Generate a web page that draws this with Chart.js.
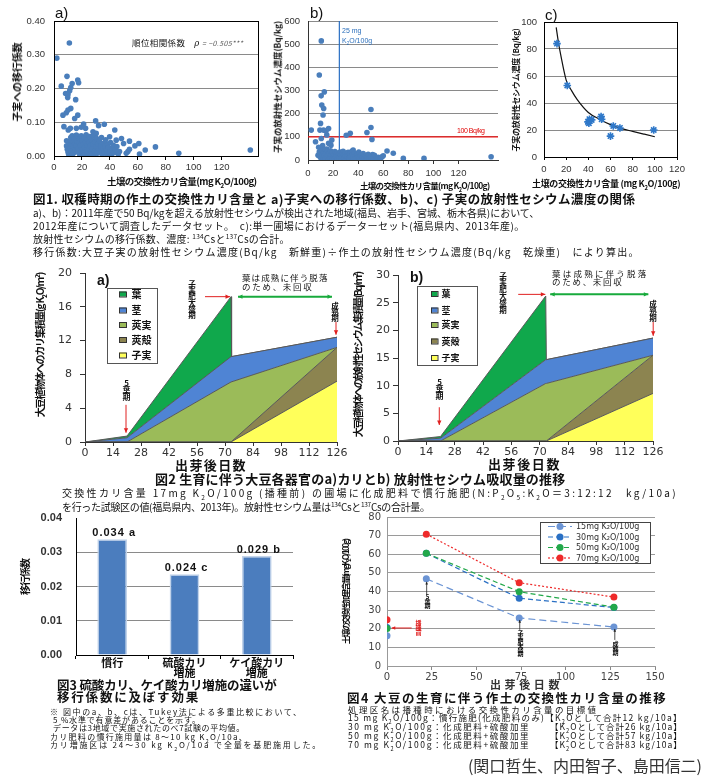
<!DOCTYPE html>
<html lang="ja">
<head>
<meta charset="utf-8">
<title>大豆の交換性カリと放射性セシウム</title>
<script src="https://cdn.jsdelivr.net/npm/chart.js@4.4.1/dist/chart.umd.min.js"></script>
<style>
  html, body { margin: 0; padding: 0; background: #fff; }
  #page { position: relative; width: 705px; height: 780px; overflow: hidden; }
  #page canvas { position: absolute; left: 0; top: 0; }
  .t { position: absolute; white-space: nowrap; line-height: 1; font-family: "Noto Sans CJK JP", sans-serif; color: #111; }
  .b { font-weight: 700; }
  .r { transform: translate(-50%, -50%) rotate(-90deg); }
  .v { writing-mode: vertical-rl; text-orientation: upright; }
  .lat { font-family: "Liberation Sans", sans-serif; }
  sub, sup { font-size: 0.65em; line-height: 0; }
</style>
</head>
<body>
<div id="page">
  <canvas id="c1a" width="705" height="780"></canvas>
  <canvas id="c1b" width="705" height="780"></canvas>
  <canvas id="c1c" width="705" height="780"></canvas>
  <canvas id="c2a" width="705" height="780"></canvas>
  <canvas id="c2b" width="705" height="780"></canvas>
  <canvas id="c3" width="705" height="780"></canvas>
  <canvas id="c4" width="705" height="780"></canvas>

  <!-- fig 1 -->
  <div class="t lat" style="left:55px;top:5px;font-size:15px">a)</div>
  <div class="t lat" style="left:310px;top:5px;font-size:15px">b)</div>
  <div class="t lat" style="left:545px;top:7px;font-size:15px">c)</div>
  <div class="t" style="left:132px;top:38px;font-size:8.5px" data-w="111">順位相関係数　<i style="font-family:'DejaVu Serif'">ρ</i> <i style="font-size:7px;color:#555">= −0.505***</i></div>
  <div class="t b r" style="left:17px;top:82px;font-size:10px" data-w="79">子実への移行係数</div>
  <div class="t b" style="left:107px;top:177px;font-size:9.5px" data-w="150">土壌の交換性カリ含量(mg K<sub>2</sub>O/100g)</div>
  <div class="t b r" style="left:277px;top:87px;font-size:8.5px" data-w="132">子実の放射性セシウム濃度(Bq/kg)</div>
  <div class="t b" style="left:360px;top:180.5px;font-size:8.5px" data-w="130">土壌の交換性カリ含量(mg K<sub>2</sub>O/100g)</div>
  <div class="t lat" style="left:342px;top:27px;font-size:7px;color:#2a6ebb">25 mg</div>
  <div class="t lat" style="left:342px;top:36.5px;font-size:7px;color:#2a6ebb">K<sub>2</sub>O/100g</div>
  <div class="t lat" style="left:457px;top:126.5px;font-size:7px;color:#e00000" data-w="28">100 Bq/kg</div>
  <div class="t b r" style="left:516px;top:90px;font-size:8px" data-w="123">子実の放射性セシウム濃度 (Bq/kg)</div>
  <div class="t b" style="left:532px;top:179px;font-size:9px" data-w="148">土壌の交換性カリ含量 (mg K<sub>2</sub>O/100g)</div>

  <div class="t b" style="left:33px;top:192.7px;font-size:12.5px" data-w="602">図1. 収穫時期の作土の交換性カリ含量と a)子実への移行係数、b)、c) 子実の放射性セシウム濃度の関係</div>
  <div class="t" style="left:33px;top:208px;font-size:10px" data-w="507">a)、b)：2011年産で50 Bq/kgを超える放射性セシウムが検出された地域(福島、岩手、宮城、栃木各県)において、</div>
  <div class="t" style="left:33px;top:221px;font-size:10px" data-w="492">2012年産について調査したデータセット。　c):単一圃場におけるデーターセット(福島県内、2013年産)。</div>
  <div class="t" style="left:33px;top:234px;font-size:10px" data-w="257">放射性セシウムの移行係数、濃度: <sup>134</sup>Csと<sup>137</sup>Csの合計。</div>
  <div class="t" style="left:33px;top:247px;font-size:10px" data-w="607">移行係数:大豆子実の放射性セシウム濃度(Bq/kg　新鮮重)÷作土の放射性セシウム濃度(Bq/kg　乾燥重)　により算出。</div>

  <!-- fig 2 -->
  <div class="t lat b" style="left:97px;top:273px;font-size:14px">a)</div>
  <div class="t lat b" style="left:410px;top:270px;font-size:14px">b)</div>
  <div class="t b r" style="left:40px;top:345px;font-size:10px" data-w="144">大豆植物体へのカリ集積量(g K<sub>2</sub>O/m<sup>2</sup>)</div>
  <div class="t b r" style="left:358px;top:355px;font-size:10px" data-w="164">大豆植物体への放射性セシウム集積量 (Bq/m<sup>2</sup>)</div>
  <div class="t b" style="left:175px;top:457.5px;font-size:13px" data-w="72">出芽後日数</div>
  <div class="t b" style="left:488px;top:457px;font-size:13px" data-w="73">出芽後日数</div>
  <div class="t" style="left:242px;top:272.7px;font-size:8.5px" data-w="87">葉は成熟に伴う脱落</div>
  <div class="t" style="left:242px;top:281.7px;font-size:8.5px" data-w="72">のため、未回収</div>
  <div class="t" style="left:552px;top:268.5px;font-size:8.5px" data-w="97">葉は成熟に伴う脱落</div>
  <div class="t" style="left:552px;top:276.5px;font-size:8.5px" data-w="72">のため、未回収</div>
  <div class="t b v" style="left:122px;top:379px;font-size:8px;letter-spacing:-0.8px">5葉期</div>
  <div class="t b v" style="left:188px;top:280px;font-size:7.5px;letter-spacing:-1.2px">子実肥大盛期</div>
  <div class="t b v" style="left:331px;top:302px;font-size:7.5px;letter-spacing:-1.2px">成熟期</div>
  <div class="t b v" style="left:435px;top:378px;font-size:8px;letter-spacing:-0.8px">5葉期</div>
  <div class="t b v" style="left:499px;top:272px;font-size:7.5px;letter-spacing:-0.7px">子実肥大盛期</div>
  <div class="t b v" style="left:649px;top:300px;font-size:7.5px;letter-spacing:-0.5px">成熟期</div>

  <div class="t b" style="left:155px;top:471.5px;font-size:13px" data-w="410">図2 生育に伴う大豆各器官のa)カリとb) 放射性セシウム吸収量の推移</div>
  <div class="t" style="left:62px;top:488px;font-size:10px" data-w="616">交換性カリ含量 17mg K<sub>2</sub>O/100g (播種前) の圃場に化成肥料で慣行施肥(N:P<sub>2</sub>O<sub>5</sub>:K<sub>2</sub>O＝3:12:12　kg/10a)</div>
  <div class="t" style="left:62px;top:502px;font-size:10px" data-w="368">を行った試験区の値(福島県内、2013年)。放射性セシウム量は<sup>134</sup>Csと<sup>137</sup>Csの合計量。</div>

  <!-- fig 3 -->
  <div class="t b r" style="left:25px;top:577px;font-size:10px" data-w="36">移行係数</div>
  <div class="t b" style="left:57px;top:678.7px;font-size:12.5px" data-w="220">図3 硫酸カリ、ケイ酸カリ増施の違いが</div>
  <div class="t b" style="left:57px;top:690.7px;font-size:12.5px" data-w="143">移行係数に及ぼす効果</div>
  <div class="t" style="left:50px;top:707.7px;font-size:8px" data-w="253">※ 図中のa、b、cは、Tukey法による多重比較において、</div>
  <div class="t" style="left:53px;top:716px;font-size:8px" data-w="148">5 %水準で有意差があることを示す。</div>
  <div class="t" style="left:53px;top:724.3px;font-size:8px" data-w="192">データは3地域で実施されたのべ7試験の平均値。</div>
  <div class="t" style="left:50px;top:732.7px;font-size:8px" data-w="198">カリ肥料の慣行施用量は 8～10 kg K<sub>2</sub>O/10a、</div>
  <div class="t" style="left:50px;top:741px;font-size:8px" data-w="272">カリ増施区は 24～30 kg K<sub>2</sub>O/10a で全量を基肥施用した。</div>

  <!-- fig 4 -->
  <div class="t b r" style="left:345px;top:592px;font-size:8.5px" data-w="105">土壌の交換性加里含量(mg K<sub>2</sub>O/100g)</div>
  <div class="t b" style="left:490px;top:678.5px;font-size:11px;color:#333" data-w="73">出芽後日数</div>
  <div class="t b v" style="left:424px;top:594px;font-size:6px;letter-spacing:-1.5px">5葉期</div>
  <div class="t b v" style="left:517px;top:630px;font-size:6px;letter-spacing:-1.8px">子実肥大盛期</div>
  <div class="t b v" style="left:612px;top:641px;font-size:6px;letter-spacing:-1.5px">成熟期</div>
  <div class="t b v" style="left:415px;top:620px;font-size:6px;letter-spacing:-1px;color:#e02020">播種前</div>

  <div class="t b" style="left:347px;top:691.5px;font-size:12.5px" data-w="320">図4 大豆の生育に伴う作土の交換性カリ含量の推移</div>
  <div class="t" style="left:348px;top:704.7px;font-size:8.5px" data-w="251">処理区名は播種時における交換性カリ含量の目標値</div>
  <div class="t" style="left:348px;top:713.4px;font-size:8.5px" data-w="335">15 mg K<sub>2</sub>O/100g：慣行施肥(化成肥料のみ)【K<sub>2</sub>Oとして合計12 kg/10a】</div>
  <div class="t" style="left:348px;top:722.4px;font-size:8.5px" data-w="182">30 mg K<sub>2</sub>O/100g：化成肥料+硫酸加里</div>
  <div class="t" style="left:550px;top:722.4px;font-size:8.5px" data-w="133">【K<sub>2</sub>Oとして合計26 kg/10a】</div>
  <div class="t" style="left:348px;top:731.4px;font-size:8.5px" data-w="182">50 mg K<sub>2</sub>O/100g：化成肥料+硫酸加里</div>
  <div class="t" style="left:550px;top:731.4px;font-size:8.5px" data-w="133">【K<sub>2</sub>Oとして合計57 kg/10a】</div>
  <div class="t" style="left:348px;top:739.7px;font-size:8.5px" data-w="182">70 mg K<sub>2</sub>O/100g：化成肥料+硫酸加里</div>
  <div class="t" style="left:550px;top:739.7px;font-size:8.5px" data-w="133">【K<sub>2</sub>Oとして合計83 kg/10a】</div>
  <div class="t" style="left:468px;top:757px;font-size:16px;color:#333" data-w="234">(関口哲生、内田智子、島田信二)</div>
</div>

<script>
// ---------- data ----------
// Fig.1 a) soil exchangeable K (mg K2O/100g) vs transfer factor
const transferPts = [
  [2, 0.29], [11, 0.335], [9.3, 0.236], [5.2, 0.207], [13, 0.215], [17, 0.225], [17.6, 0.217],
  [12, 0.203], [11.2, 0.193], [8.3, 0.185], [9.8, 0.173], [10, 0.182], [15.5, 0.167], [12, 0.141],
  [6.4, 0.121], [8.8, 0.128], [10, 0.136], [14.8, 0.111], [17, 0.121], [7.1, 0.087], [10.2, 0.077],
  [11.7, 0.082], [16, 0.082], [19.5, 0.085], [21.2, 0.095], [22.6, 0.082], [29.8, 0.104], [31.9, 0.09],
  [36, 0.094], [43.5, 0.077], [27.9, 0.072], [30.2, 0.067], [72.6, 0.027], [89.3, 0.008], [65.3, 0.018],
  [57.9, 0.03], [60.7, 0.037], [54, 0.044], [49.8, 0.037], [48.3, 0.052], [44.5, 0.047], [52.9, 0.013],
  [51.7, 0.008], [46, 0.006], [61.2, 0.006], [54, 0.02], [46.9, 0.013], [39.8, 0.057], [140.5, 0.018],
  [9, 0.045], [9, 0.03], [9.5, 0.02], [10, 0.012], [10.5, 0.005], [11, 0.04], [11.5, 0.025], [12, 0.055],
  [12, 0.035], [12.5, 0.015], [13, 0.06], [13, 0.045], [13.5, 0.028], [14, 0.008], [14.5, 0.05], [15, 0.038],
  [15, 0.018], [16, 0.062], [16, 0.03], [16.5, 0.045], [17, 0.012], [17.5, 0.022], [18, 0.052], [18, 0.04],
  [18.5, 0.003], [19, 0.03], [19.5, 0.06], [20, 0.018], [20, 0.045], [20.5, 0.008], [21, 0.035], [21.5, 0.055],
  [22, 0.025], [22.5, 0.042], [23, 0.012], [23, 0.063], [23.5, 0.032], [24, 0.05], [24.5, 0.005], [25, 0.02],
  [25, 0.04], [25.5, 0.058], [26, 0.03], [26.5, 0.012], [27, 0.047], [27.5, 0.022], [28, 0.035], [28, 0.06],
  [28.5, 0.003], [29, 0.015], [29.5, 0.042], [30, 0.028], [30.5, 0.052], [31, 0.008], [31.5, 0.035], [32, 0.02],
  [32.5, 0.045], [33, 0.012], [33.5, 0.03], [34, 0.055], [34.5, 0.004], [35, 0.022], [35.5, 0.038], [36, 0.012],
  [36.5, 0.03], [37, 0.048], [37.5, 0.018], [38, 0.005], [38.5, 0.035], [39, 0.025], [40, 0.012], [40.5, 0.04],
  [41, 0.003], [42, 0.022], [42.5, 0.032], [43, 0.01], [44, 0.018], [45, 0.028], [21, 0.003], [26, 0.004], [13, 0.002]
];
// Fig.1 b) soil exchangeable K vs seed radiocaesium (Bq/kg)
const seedCsPts = [
  [10.6, 514], [9, 367], [13, 294], [10.5, 277], [11, 237], [12.5, 222], [12, 194], [10, 158], [2.6, 129],
  [9.5, 129], [12.4, 129], [14.4, 125], [16.4, 136], [15, 108], [19, 86], [10.6, 93], [16.4, 72], [6, 79],
  [30.5, 107], [33.7, 115], [47, 119], [50.2, 218], [50.2, 140], [51, 89], [18.3, 64], [11.7, 62], [8.5, 55],
  [15, 47], [8, 20], [36, 43], [63, 39], [68, 29], [76, 7], [92.5, 7], [146, 14], [51.5, 24], [59, 14],
  [9, 35], [9.5, 15], [10, 28], [10.5, 5], [11, 42], [11.5, 22], [12, 10], [12.5, 33], [13, 18], [13.5, 45],
  [14, 6], [14.5, 28], [15, 14], [15.5, 38], [16, 22], [16.5, 3], [17, 30], [17.5, 12], [18, 40], [18.5, 20],
  [19, 8], [19.5, 32], [20, 16], [20.5, 25], [21, 5], [21.5, 36], [22, 12], [22.5, 22], [23, 30], [23.5, 4],
  [24, 18], [24.5, 26], [25, 10], [25.5, 34], [26, 20], [26.5, 6], [27, 28], [27.5, 14], [28, 38], [28.5, 22],
  [29, 8], [29.5, 30], [30, 16], [30.5, 3], [31, 25], [31.5, 12], [32, 33], [32.5, 20], [33, 7], [33.5, 28],
  [34, 15], [35, 38], [35.5, 22], [36, 9], [37, 30], [37.5, 16], [38, 4], [39, 24], [40, 12], [40.5, 34],
  [41, 7], [42, 20], [43, 14], [44, 28], [45, 6], [46, 18], [47, 10], [48, 25], [49, 4], [50, 14], [52, 8],
  [53, 20], [55, 5], [56, 12], [58, 9], [60, 18]
];
const csLimitK = 25;      // vertical reference, mg K2O/100g
const csLimitBq = 100;    // horizontal reference, Bq/kg
// Fig.1 c) single field
const fieldPts = [
  [11.7, 84], [21, 53], [39.7, 26], [41, 28], [40.5, 25], [43, 27.5], [51.5, 30], [52, 28],
  [60, 15.5], [62.5, 23], [68.5, 21.5], [99, 20]
];
const fitCurve = [
  [11, 96], [13, 85], [15, 76], [20, 57], [25, 49], [30, 42.5], [40, 33], [50, 28], [60, 24],
  [70, 21], [80, 19], [90, 17], [100, 15]
];

// Fig.2 organ uptake, days after emergence
const growthDays = [0, 21, 73, 73.3, 126];
const organNames = ['子実', '莢殻', '莢実', '茎', '葉'];
const kSeed  = [0, 0, 0, 0, 7.2];
const kShell = [0, 0, 0, 0, 4.0];
const kPod   = [0, 0, 7.1, 7.1, 0];
const kStem  = [0, 0.5, 3.0, 3.0, 1.2];
const kLeaf  = [0, 0.2, 7.1, 0, 0];
const csSeed  = [0, 0, 0, 0, 8.6];
const csShell = [0, 0, 0, 0, 6.9];
const csPod   = [0, 0, 10.4, 10.4, 0];
const csStem  = [0, 0.5, 4.3, 4.3, 3.1];
const csLeaf  = [0, 0.3, 11.5, 0, 0];

// Fig.3 transfer factor by treatment
const barLabels = ['慣行', ['硫酸カリ', '増施'], ['ケイ酸カリ', '増施']];
const barValues = [0.0338, 0.0236, 0.0289];
const barLetters = ['a', 'c', 'b'];

// Fig.4 soil exchangeable K through the season
const sampleDays = [0, 22, 74, 127];
const seriesNames = ['15mg K₂O/100g', '30mg K₂O/100g', '50mg K₂O/100g', '70mg K₂O/100g'];
const k15 = [16.3, 46.8, 25.8, 20.9];
const k30 = [20.7, 60.5, 36.4, 31.4];
const k50 = [20.2, 60.5, 39.9, 31.6];
const k70 = [24.8, 70.8, 44.7, 37.0];

// ---------- styles ----------
const organColors = ['#ffff5a', '#8c8450', '#9bbb59', '#4f84d4', '#10a84c'];
const lineColors = ['#6b94d4', '#2a70c4', '#22a84a', '#ee2a2a'];
const lineDashes = [[7, 4], [5, 3], [5, 3], [2, 2]];

// ---------- helpers / plugins ----------
const W = 705, H = 780;
Chart.defaults.animation = false;
Chart.defaults.responsive = false;
Chart.defaults.devicePixelRatio = 1;
Chart.defaults.events = [];
Chart.defaults.color = '#333';
Chart.defaults.font.family = '"Liberation Sans", "Noto Sans CJK JP", sans-serif';
Chart.defaults.plugins.legend.display = false;
Chart.defaults.plugins.tooltip.enabled = false;

// page-coordinate plot box: every canvas covers the page
function box(x0, y0, x1, y1, yw, xh) {
  return { padding: { left: x0 - yw, top: y0, right: W - x1, bottom: H - y1 - xh } };
}
const onStep = step => s => { s.ticks = s.ticks.filter(t => Math.abs(t.value / step - Math.round(t.value / step)) < 1e-6); };
const pts = arr => arr.map(p => ({ x: p[0], y: p[1] }));

const frame = {
  id: 'frame',
  afterDraw(chart, args, o) {
    if (!o.color) return;
    const a = chart.chartArea, ctx = chart.ctx;
    ctx.save();
    ctx.strokeStyle = o.color; ctx.lineWidth = 1;
    ctx.strokeRect(Math.round(a.left) + 0.5, Math.round(a.top) + 0.5, Math.round(a.right - a.left), Math.round(a.bottom - a.top));
    ctx.restore();
  }
};

function head(ctx, x1, y1, x2, y2, s) {
  const ang = Math.atan2(y2 - y1, x2 - x1);
  ctx.beginPath();
  ctx.moveTo(x2, y2);
  ctx.lineTo(x2 - s * Math.cos(ang - 0.45), y2 - s * Math.sin(ang - 0.45));
  ctx.lineTo(x2 - s * Math.cos(ang + 0.45), y2 - s * Math.sin(ang + 0.45));
  ctx.closePath();
  ctx.fill();
}
const arrows = {
  id: 'arrows',
  afterDatasetsDraw(chart, args, o) {
    if (!o.items) return;
    const xs = chart.scales.x, ys = chart.scales.y, ctx = chart.ctx;
    o.items.forEach(a => {
      const x1 = xs.getPixelForValue(a.from[0]), y1 = ys.getPixelForValue(a.from[1]);
      const x2 = xs.getPixelForValue(a.to[0]), y2 = ys.getPixelForValue(a.to[1]);
      const s = a.head || 5;
      ctx.save();
      ctx.strokeStyle = ctx.fillStyle = a.color;
      ctx.lineWidth = a.width || 1;
      ctx.beginPath(); ctx.moveTo(x1, y1); ctx.lineTo(x2, y2); ctx.stroke();
      head(ctx, x1, y1, x2, y2, s);
      if (a.both) head(ctx, x2, y2, x1, y1, s);
      ctx.restore();
    });
  }
};

const boxLegend = {
  id: 'boxLegend',
  afterDraw(chart, args, o) {
    if (!o.box) return;
    const ctx = chart.ctx, ds = chart.data.datasets;
    ctx.save();
    ctx.fillStyle = '#fff';
    ctx.fillRect(o.box[0], o.box[1], o.box[2], o.box[3]);
    ctx.strokeStyle = o.border || '#555'; ctx.lineWidth = 1;
    ctx.strokeRect(o.box[0] + 0.5, o.box[1] + 0.5, o.box[2], o.box[3]);
    o.order.forEach((i, k) => {
      const d = ds[i], y = o.rows[k];
      if (o.kind === 'line') {
        ctx.strokeStyle = d.borderColor; ctx.lineWidth = d.borderWidth;
        ctx.setLineDash(d.borderDash || []);
        ctx.beginPath(); ctx.moveTo(o.sx, y); ctx.lineTo(o.sx + o.sw, y); ctx.stroke();
        ctx.setLineDash([]);
        ctx.fillStyle = d.pointBackgroundColor;
        ctx.beginPath(); ctx.arc(o.sx + o.sw / 2, y, d.pointRadius, 0, Math.PI * 2); ctx.fill();
      } else {
        ctx.fillStyle = d.backgroundColor;
        ctx.fillRect(o.sx, y - o.sh / 2, o.sw, o.sh);
        ctx.strokeStyle = '#333'; ctx.lineWidth = 1;
        ctx.strokeRect(o.sx + 0.5, y - o.sh / 2 + 0.5, o.sw, o.sh);
      }
      ctx.fillStyle = o.color || '#111';
      ctx.font = o.font; ctx.textBaseline = 'middle';
      ctx.fillText(d.label, o.tx, y + 0.5);
    });
    ctx.restore();
  }
};

const barTags = {
  id: 'barTags',
  afterDatasetsDraw(chart, args, o) {
    if (!o.tags) return;
    const meta = chart.getDatasetMeta(0), ctx = chart.ctx;
    ctx.save();
    ctx.font = o.font; ctx.fillStyle = '#111';
    ctx.textAlign = 'center'; ctx.textBaseline = 'bottom';
    ctx.letterSpacing = '1px';
    meta.data.forEach((bar, i) => ctx.fillText(o.tags[i], bar.x + 2, bar.y - 1));
    ctx.restore();
  }
};
Chart.register(frame, arrows, boxLegend, barTags);

// ---------- Fig.1 a ----------
new Chart('c1a', {
  type: 'scatter',
  data: { datasets: [{ data: pts(transferPts), backgroundColor: '#4a7ebb', borderWidth: 0, pointRadius: 2.8 }] },
  options: {
    layout: box(54, 21, 258, 156, 40, 20),
    scales: {
      x: {
        min: 0, max: 146, afterBuildTicks: onStep(20),
        ticks: { stepSize: 20, padding: 2, font: { size: 9.5 } },
        grid: { drawOnChartArea: false, tickLength: 4, tickColor: '#000' },
        border: { color: '#000' },
        afterFit: s => { s.height = 20; }
      },
      y: {
        min: 0, max: 0.4,
        ticks: { stepSize: 0.1, padding: 9, font: { size: 9.5 }, callback: v => v.toFixed(2) },
        grid: { color: '#8a8a8a', drawTicks: false },
        border: { color: '#000' },
        afterFit: s => { s.width = 40; }
      }
    },
    plugins: { frame: { color: '#000' } }
  }
});

// ---------- Fig.1 b ----------
new Chart('c1b', {
  type: 'scatter',
  data: {
    datasets: [
      { data: pts(seedCsPts), backgroundColor: '#4a7ebb', borderWidth: 0, pointRadius: 2.8 },
      { data: [{ x: csLimitK, y: 0 }, { x: csLimitK, y: 600 }], showLine: true, borderColor: '#2a70c4', borderWidth: 1.2, pointRadius: 0 },
      { data: [{ x: 0, y: csLimitBq }, { x: 151.5, y: csLimitBq }], showLine: true, borderColor: '#ee1111', borderWidth: 1.2, pointRadius: 0 }
    ]
  },
  options: {
    layout: box(308, 21, 498, 160, 40, 20),
    scales: {
      x: {
        min: 0, max: 151.5, afterBuildTicks: onStep(20),
        ticks: { stepSize: 20, padding: 4, font: { size: 9.5 } },
        grid: { drawOnChartArea: false, tickLength: 4, tickColor: '#333' },
        border: { color: '#333' },
        afterFit: s => { s.height = 20; }
      },
      y: {
        min: 0, max: 600,
        ticks: { stepSize: 100, padding: 8, font: { size: 9.5 } },
        grid: { color: '#8a8a8a', drawTicks: false },
        border: { color: '#333' },
        afterFit: s => { s.width = 40; }
      }
    }
  }
});

// ---------- Fig.1 c ----------
new Chart('c1c', {
  type: 'scatter',
  data: {
    datasets: [
      { data: pts(fieldPts), pointStyle: 'star', pointRadius: 3.8, borderColor: '#2f78c9', backgroundColor: '#2f78c9', pointBorderWidth: 1.6 },
      { data: pts(fitCurve), showLine: true, borderColor: '#111', borderWidth: 1.2, pointRadius: 0, cubicInterpolationMode: 'monotone' }
    ]
  },
  options: {
    layout: box(544, 22, 677, 157, 40, 20),
    scales: {
      x: {
        min: 0, max: 120,
        ticks: { stepSize: 20, padding: 4, font: { size: 9.5 } },
        grid: { drawOnChartArea: false, tickLength: 3, tickColor: '#000' },
        border: { color: '#000' },
        afterFit: s => { s.height = 20; }
      },
      y: {
        min: 0, max: 100,
        ticks: { stepSize: 20, padding: 7, font: { size: 9.5 } },
        grid: { color: '#8a8a8a', drawTicks: false },
        border: { color: '#000' },
        afterFit: s => { s.width = 40; }
      }
    },
    plugins: { frame: { color: '#000' } }
  }
});

// ---------- Fig.2 stacked areas ----------
function organSets(parts) {
  return parts.map((vals, i) => ({
    label: organNames[i],
    data: growthDays.map((d, j) => ({ x: d, y: vals[j] })),
    backgroundColor: organColors[i],
    borderColor: '#595959', borderWidth: 1,
    pointRadius: 0, tension: 0,
    fill: i === 0 ? 'origin' : '-1'
  }));
}
function areaAxes(ymax, ystep, ypad) {
  return {
    x: {
      type: 'linear', min: 0, max: 126,
      ticks: { stepSize: 14, padding: 1, font: { family: '"DejaVu Sans"', size: 11 } },
      grid: { drawOnChartArea: false, tickLength: 4, tickColor: '#333' },
      border: { color: '#333' },
      afterFit: s => { s.height = 20; }
    },
    y: {
      stacked: true, min: 0, max: ymax,
      ticks: { stepSize: ystep, padding: ypad, font: { family: '"DejaVu Sans"', size: 11 } },
      grid: { drawOnChartArea: false, tickLength: 5, tickColor: '#333' },
      border: { color: '#333' },
      afterFit: s => { s.width = 40; }
    }
  };
}
const red = '#e02020', green = '#18aa3c';

new Chart('c2a', {
  type: 'line',
  data: { datasets: organSets([kSeed, kShell, kPod, kStem, kLeaf]) },
  options: {
    layout: box(85, 273, 337, 442, 40, 20),
    scales: areaAxes(20, 4, 8),
    plugins: {
      arrows: { items: [
        { from: [20.5, 4.4], to: [20.5, 1.1], color: red },
        { from: [60, 17.2], to: [72.5, 17.2], color: red },
        { from: [76.5, 17.2], to: [123.5, 17.2], color: green, width: 2, both: true },
        { from: [125.5, 14.2], to: [125.5, 12.7], color: red }
      ] },
      boxLegend: { box: [107, 288, 50, 75], order: [4, 3, 2, 1, 0], rows: [294, 310, 324.5, 339.5, 355],
        sx: 119, sw: 7, sh: 5, tx: 131.5, font: 'bold 10px "Noto Sans CJK JP"' }
    }
  }
});

new Chart('c2b', {
  type: 'line',
  data: { datasets: organSets([csSeed, csShell, csPod, csStem, csLeaf]) },
  options: {
    layout: box(398, 275, 653, 441, 40, 20),
    scales: areaAxes(30, 5, 3),
    plugins: {
      arrows: { items: [
        { from: [20.4, 6.1], to: [20.4, 2.9], color: red },
        { from: [59.4, 26.5], to: [72.8, 26.5], color: red },
        { from: [75.2, 26.5], to: [123.7, 26.5], color: green, width: 2, both: true },
        { from: [126.1, 21.5], to: [126.1, 19.0], color: red }
      ] },
      boxLegend: { box: [417, 286, 60, 79], order: [4, 3, 2, 1, 0], rows: [293.5, 310, 324.5, 341, 357.5],
        sx: 431, sw: 6.5, sh: 5, tx: 441.5, font: 'bold 9px "Noto Sans CJK JP"' }
    }
  }
});

// ---------- Fig.3 bars ----------
new Chart('c3', {
  type: 'bar',
  data: {
    labels: barLabels,
    datasets: [{ data: barValues, backgroundColor: '#4b7dbe', borderColor: '#c2d3ea', borderWidth: 1.5,
      barPercentage: 0.41, categoryPercentage: 1 }]
  },
  options: {
    layout: box(76, 518, 293, 655, 50, 25),
    scales: {
      x: {
        ticks: { color: '#111', padding: 0, font: { size: 11, weight: 'bold', lineHeight: 0.9 } },
        grid: { drawOnChartArea: false, tickLength: 4, tickColor: '#000', offset: true },
        border: { color: '#000' },
        afterFit: s => { s.height = 25; }
      },
      y: {
        min: 0, max: 0.04,
        ticks: { stepSize: 0.01, padding: 14, font: { size: 11, weight: 'bold' }, callback: v => v.toFixed(2) },
        grid: { color: c => (c.index === 4 ? 'rgba(0,0,0,0)' : '#8a8a8a'), drawTicks: false },
        border: { color: '#000' },
        afterFit: s => { s.width = 50; }
      }
    },
    plugins: {
      barTags: { tags: barValues.map((v, i) => v.toFixed(3) + ' ' + barLetters[i]), font: 'bold 11px "Liberation Sans"' }
    }
  }
});

// ---------- Fig.4 lines ----------
const kSeries = [k15, k30, k50, k70];
new Chart('c4', {
  type: 'line',
  data: {
    datasets: kSeries.map((vals, i) => ({
      label: seriesNames[i],
      data: sampleDays.map((d, j) => ({ x: d, y: vals[j] })),
      borderColor: lineColors[i], backgroundColor: lineColors[i], pointBackgroundColor: lineColors[i],
      pointBorderWidth: 0, pointRadius: 3.5, borderWidth: 1.2, borderDash: lineDashes[i],
      order: [1, 3, 2, 4][i],
      segment: { borderColor: c => (c.p0DataIndex === 0 ? 'rgba(0,0,0,0)' : undefined) }
    }))
  },
  options: {
    layout: box(387, 517, 655, 666, 40, 20),
    scales: {
      x: {
        type: 'linear', min: 0, max: 150,
        ticks: { stepSize: 25, padding: 1, color: '#444', font: { family: '"DejaVu Sans"', size: 10 } },
        grid: { drawOnChartArea: false, tickLength: 4, tickColor: '#888' },
        border: { color: '#999' },
        afterFit: s => { s.height = 20; }
      },
      y: {
        min: 0, max: 80,
        ticks: { stepSize: 10, padding: 6, color: '#444', font: { family: '"DejaVu Sans"', size: 10 } },
        grid: { color: '#9a9a9a', drawTicks: false },
        border: { color: '#999' },
        afterFit: s => { s.width = 40; }
      }
    },
    plugins: {
      arrows: { items: [
        { from: [22.2, 38.2], to: [22.2, 45.2], color: '#222', width: 0.8, head: 3 },
        { from: [74.3, 19.4], to: [74.3, 24.7], color: '#222', width: 0.8, head: 3 },
        { from: [127.5, 14], to: [127.5, 19.9], color: '#222', width: 0.8, head: 3 },
        { from: [13.8, 20.4], to: [2.6, 20.4], color: red, width: 1, head: 4 }
      ] },
      boxLegend: { box: [540, 522, 110, 41], order: [0, 1, 2, 3], rows: [526.5, 537, 547.5, 558],
        kind: 'line', sx: 548, sw: 24, tx: 576, font: '8px "DejaVu Sans"', color: '#333', border: '#444' }
    }
  }
});

// ---------- stretch caption lines to the widths seen in the figure ----------
document.querySelectorAll('[data-w]').forEach(el => {
  const n = el.textContent.length;
  const diff = +el.dataset.w - el.offsetWidth;
  el.style.letterSpacing = (diff / n).toFixed(2) + 'px';
});
</script>
</body>
</html>
